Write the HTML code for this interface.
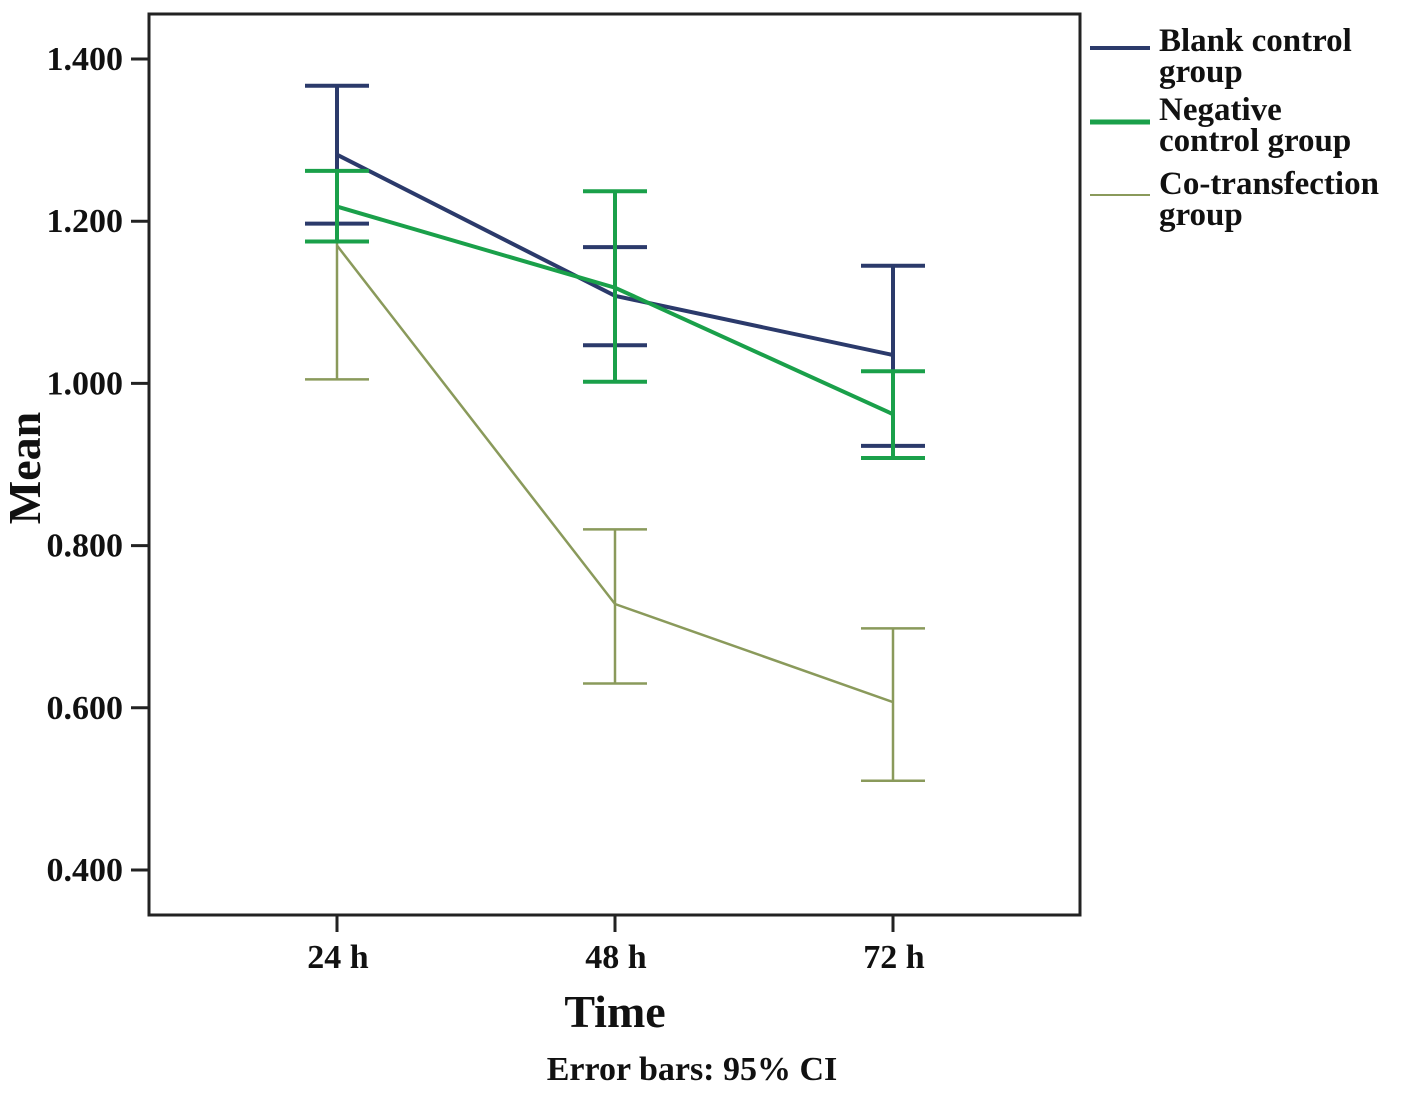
<!DOCTYPE html>
<html><head><meta charset="utf-8"><style>
body{margin:0;background:#fff;}
svg text{font-family:"Liberation Serif",serif;font-weight:bold;fill:#111;}
</style></head><body>
<svg width="1404" height="1091" viewBox="0 0 1404 1091">
<rect x="149" y="14" width="931" height="901" fill="none" stroke="#222" stroke-width="3"/>
<g id="yaxis"></g>
<g id="xaxis"></g>
<g id="series"></g>
<text x="40" y="468" font-size="46" text-anchor="middle" transform="rotate(-90 40 468)">Mean</text>
<text x="615" y="1027" font-size="46" text-anchor="middle">Time</text>
<text x="692" y="1080" font-size="34" text-anchor="middle">Error bars: 95% CI</text>
<g>
<line x1="1090" y1="48" x2="1150" y2="48" stroke="#2b3a6b" stroke-width="4"/>
<text x="1159" y="51" font-size="33">Blank control</text>
<text x="1159" y="82" font-size="33">group</text>
<line x1="1090" y1="122" x2="1150" y2="122" stroke="#1aa04a" stroke-width="5"/>
<text x="1159" y="120" font-size="33">Negative</text>
<text x="1159" y="151" font-size="33">control group</text>
<line x1="1090" y1="195" x2="1150" y2="195" stroke="#8a9a5b" stroke-width="2"/>
<text x="1159" y="194" font-size="33">Co-transfection</text>
<text x="1159" y="225" font-size="33">group</text>
</g>
</svg>
<script>
const categories=["24 h","48 h","72 h"];
const yTicks=[0.4,0.6,0.8,1.0,1.2,1.4];
const blankMean=[1.282,1.108,1.035];
const blankLo=[1.197,1.047,0.923];
const blankHi=[1.367,1.168,1.145];
const negMean=[1.218,1.118,0.962];
const negLo=[1.175,1.002,0.908];
const negHi=[1.262,1.237,1.015];
const coMean=[1.17,0.728,0.607];
const coLo=[1.005,0.630,0.510];
const coHi=[1.367,0.820,0.698];
const NS="http://www.w3.org/2000/svg";
function yS(v){return 870-(v-0.4)*(811/1.0);}
function xS(i){return 337+i*278;}
function mk(tag,attrs,parent){const e=document.createElementNS(NS,tag);for(const k in attrs)e.setAttribute(k,attrs[k]);parent.appendChild(e);return e;}
const ya=document.getElementById('yaxis'),xa=document.getElementById('xaxis'),sg=document.getElementById('series');
yTicks.forEach(v=>{
 const l=mk('line',{x1:131,x2:149,y1:yS(v),y2:yS(v),stroke:'#222','stroke-width':3},ya);
 
 
 const t=mk('text',{x:123,y:yS(v)+11,'font-size':34,'text-anchor':'end'},ya);
 t.textContent=v.toFixed(3);
 
 
});
categories.forEach((c,i)=>{
 const l=mk('line',{x1:xS(i),x2:xS(i),y1:915,y2:932,stroke:'#222','stroke-width':3},xa);
 
 
 const t=mk('text',{x:xS(i)+1,y:968,'font-size':34,'text-anchor':'middle'},xa);
 t.textContent=c;
 
 
});
function series(name,mean,lo,hi,color,w){
 const g=mk('g',{},sg);
 
 
 mean.forEach((m,i)=>{
  const x=xS(i);
  const v=mk('line',{x1:x,x2:x,y1:yS(lo[i]),y2:yS(hi[i]),stroke:color,'stroke-width':w},g);
  
  
  [lo[i],hi[i]].forEach(c=>{
   const h=mk('line',{x1:x-32,x2:x+32,y1:yS(c),y2:yS(c),stroke:color,'stroke-width':w},g);
   
   
  });
 });
 const p=mk('polyline',{points:mean.map((m,i)=>xS(i)+','+yS(m)).join(' '),fill:'none',stroke:color,'stroke-width':w},g);
 
 
}
series('cotrans',coMean,coLo,coHi,'#8a9a5b',2.5);
series('blank',blankMean,blankLo,blankHi,'#2b3a6b',4);
series('negative',negMean,negLo,negHi,'#1aa04a',4);
</script>
</body></html>
